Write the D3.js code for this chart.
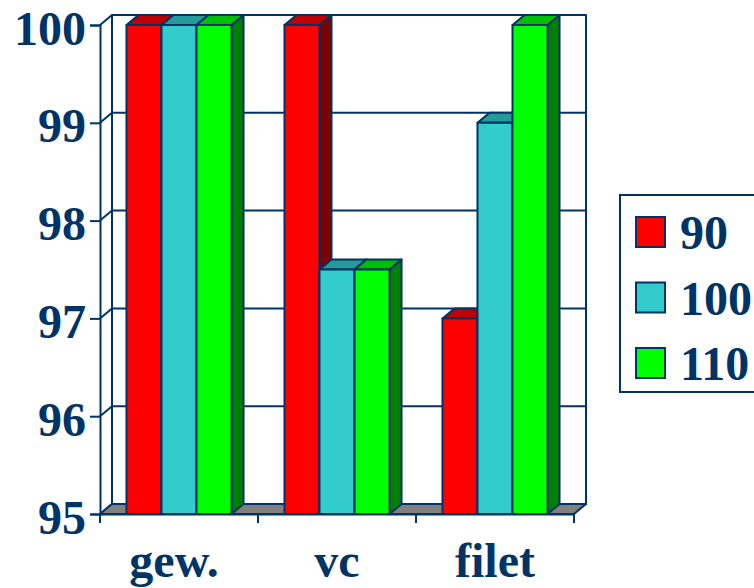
<!DOCTYPE html>
<html lang="en">

<head>
    <meta charset="UTF-8">
    <title>Chart</title>
    <script src="https://d3js.org/d3.v7.min.js"></script>
    <style>
    html, body {
        margin: 0;
        padding: 0;
        background: white;
        overflow: hidden;
    }

    text {
        font-family: "Liberation Serif", serif;
        font-weight: bold;
        fill: #003366;
    }
    </style>
</head>

<body>
    <div class="content"></div>
    <script>
    var categories = ['gew.', 'vc', 'filet'];
    var seriesNames = ['90', '100', '110'];
    var values90 = [100, 100, 97];
    var values100 = [100, 97.5, 99];
    var values110 = [100, 97.5, 100];
    var yTicks = [95, 96, 97, 98, 99, 100];

    var seriesValues = [values90, values100, values110];
    var frontColors = ['#ff0000', '#33cccc', '#00ff00'];
    var topColors = ['#bf0000', '#269999', '#00bf00'];
    var sideColors = ['#800000', '#1a6666', '#008000'];

    var line = '#003366';
    var p = {
        svgWidth: 754,
        svgHeight: 588,
        left: 100,
        right: 574,
        top: 25,
        bottom: 514,
        depthX: 12,
        depthY: 10,
        fontSize: 48
    };

    var svg = d3.select('.content')
        .append('svg')
        .attr('width', p.svgWidth)
        .attr('height', p.svgHeight)
        .style('display', 'block');

    var y = d3.scaleLinear().domain([95, 100]).range([p.bottom, p.top]);
    var x = d3.scaleBand().domain(categories).range([p.left, p.right]).paddingInner(0.335).paddingOuter(0.1675);
    var xSeries = d3.scaleBand().domain(seriesNames).range([0, x.bandwidth()]);

    function poly(points, fill) {
        svg.append('polygon')
            .attr('points', points.map(function(d) { return d.join(','); }).join(' '))
            .attr('fill', fill)
            .attr('stroke', line)
            .attr('stroke-width', 2)
            .attr('stroke-linejoin', 'round');
    }

    function seg(x1, y1, x2, y2) {
        svg.append('line')
            .attr('x1', x1)
            .attr('y1', y1)
            .attr('x2', x2)
            .attr('y2', y2)
            .attr('stroke', line)
            .attr('stroke-width', 2);
    }

    // back wall and side wall with the grid
    poly([
        [p.left + p.depthX, p.top - p.depthY],
        [p.right + p.depthX, p.top - p.depthY],
        [p.right + p.depthX, p.bottom - p.depthY],
        [p.left + p.depthX, p.bottom - p.depthY]
    ], 'white');

    yTicks.forEach(function(t) {
        seg(p.left, y(t), p.left + p.depthX, y(t) - p.depthY);
        seg(p.left + p.depthX, y(t) - p.depthY, p.right + p.depthX, y(t) - p.depthY);
    });

    // floor
    poly([
        [p.left, p.bottom],
        [p.left + p.depthX, p.bottom - p.depthY],
        [p.right + p.depthX, p.bottom - p.depthY],
        [p.right, p.bottom]
    ], '#808080');

    // bars, left to right so the next bar covers the side of the previous one
    categories.forEach(function(cat, c) {
        seriesNames.forEach(function(name, s) {
            var x0 = x(cat) + xSeries(name);
            var x1 = x0 + xSeries.bandwidth();
            var yTop = y(seriesValues[s][c]);
            poly([
                [x1, yTop],
                [x1 + p.depthX, yTop - p.depthY],
                [x1 + p.depthX, p.bottom - p.depthY],
                [x1, p.bottom]
            ], sideColors[s]);
            poly([
                [x0, yTop],
                [x0 + p.depthX, yTop - p.depthY],
                [x1 + p.depthX, yTop - p.depthY],
                [x1, yTop]
            ], topColors[s]);
            poly([
                [x0, yTop],
                [x1, yTop],
                [x1, p.bottom],
                [x0, p.bottom]
            ], frontColors[s]);
        });
    });

    // y axis
    var yAxis = svg.append('g')
        .attr('transform', 'translate(' + p.left + ',0)')
        .call(d3.axisLeft(y).tickValues(yTicks).tickSize(10).tickPadding(4).tickFormat(d3.format('d')));
    yAxis.selectAll('line, path').attr('stroke', line).attr('stroke-width', 2);
    yAxis.selectAll('text')
        .attr('font-size', p.fontSize)
        .style('font-family', '"Liberation Serif", serif')
        .attr('dy', 19);

    // x axis: labels from the band scale, ticks on the band edges
    var xAxis = svg.append('g')
        .attr('transform', 'translate(0,' + p.bottom + ')')
        .call(d3.axisBottom(x).tickSize(0));
    xAxis.select('path').attr('stroke', line).attr('stroke-width', 2);
    xAxis.selectAll('text')
        .attr('font-size', p.fontSize)
        .style('font-family', '"Liberation Serif", serif')
        .attr('y', 63)
        .attr('dy', 0)
        .attr('dx', function(d) { return d === 'gew.' ? -5 : 0; });

    d3.range(categories.length + 1).forEach(function(i) {
        var tx = p.left + i * (p.right - p.left) / categories.length;
        seg(tx, p.bottom, tx, p.bottom + 9);
    });

    // legend
    svg.append('rect')
        .attr('x', 620)
        .attr('y', 195)
        .attr('width', 140)
        .attr('height', 197)
        .attr('fill', 'white')
        .attr('stroke', line)
        .attr('stroke-width', 2);

    var legendY = d3.scalePoint().domain(seriesNames).range([232, 363]);
    seriesNames.forEach(function(name, s) {
        svg.append('rect')
            .attr('x', 636)
            .attr('y', legendY(name) - 15)
            .attr('width', 29)
            .attr('height', 30)
            .attr('fill', frontColors[s])
            .attr('stroke', line)
            .attr('stroke-width', 2);
        svg.append('text')
            .attr('x', 680)
            .attr('y', legendY(name) + 17)
            .attr('font-size', p.fontSize)
            .text(name);
    });
    </script>
</body>

</html>
